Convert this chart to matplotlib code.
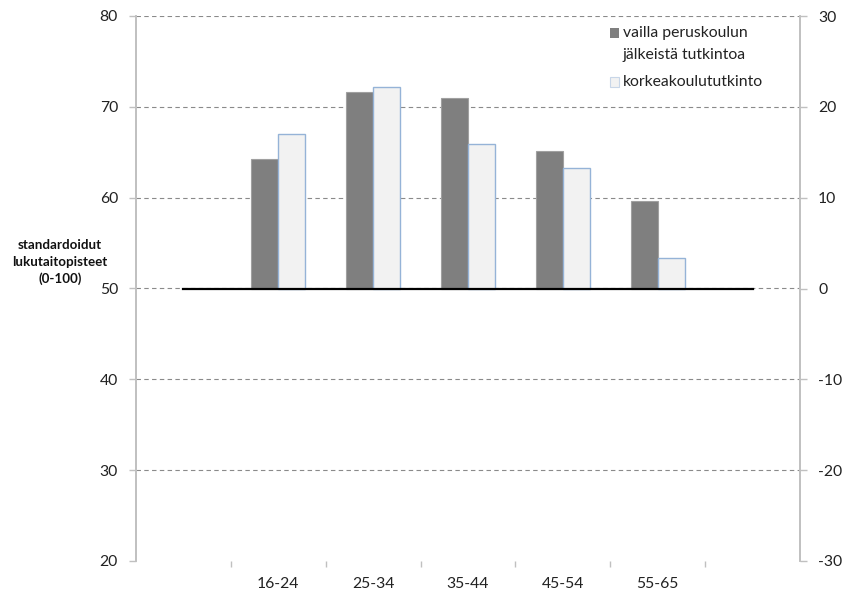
import matplotlib
matplotlib.use("Agg")
import matplotlib.pyplot as plt
import numpy as np
from matplotlib.patches import Rectangle

plt.rcParams['font.family'] = ['Lato', 'DejaVu Sans']
plt.rcParams['axes.unicode_minus'] = False

# Age groups (outer empty slots keep the zero line wider than the bars)
categories = ["", "16-24", "25-34", "35-44", "45-54", "55-65", ""]
# Differences from the mean score (right axis, 0 = 50 on the left axis)
no_degree = [np.nan, 14.3, 21.6, 21.0, 15.1, 9.6, np.nan]
higher_ed = [np.nan, 17.0, 22.2, 15.9, 13.3, 3.4, np.nan]
baseline = [0, 0, 0, 0, 0, 0, 0]

left_ticks = [20, 30, 40, 50, 60, 70, 80]
right_ticks = [-30, -20, -10, 0, 10, 20, 30]

series_names = ["vailla peruskoulun\njälkeistä tutkintoa", "korkeakoulututkinto"]
ylabel_text = "standardoidut\nlukutaitopisteet\n(0-100)"

W, H = 843, 591
fig = plt.figure(figsize=(W / 100, H / 100), dpi=100)
ax = fig.add_axes([136 / W, 1 - 561 / H, (800 - 136) / W, (561 - 16) / H])
ax2 = ax.twinx()

x = np.arange(len(categories))
bw = 0.285
fs = 11.3
txt_col = '#222222'

ax.set_xlim(-0.5, len(categories) - 0.5)
ax.set_ylim(left_ticks[0], left_ticks[-1])
ax.set_yticks(left_ticks)
ax2.set_ylim(right_ticks[0], right_ticks[-1])
ax2.set_yticks(right_ticks)

grid_col = '#8a8a8a'
ax.grid(axis='y', linestyle=(0, (4, 3)), color=grid_col, linewidth=0.8)
ax.get_ygridlines()[0].set_visible(False)
ax.set_axisbelow(True)

dark = '#7f7f7f'
light = '#f2f2f2'
ax2.bar(x - bw / 2, no_degree, width=bw, color=dark, edgecolor='#a0a0a0',
        linewidth=0.8, zorder=2)
ax2.bar(x + bw / 2, higher_ed, width=bw, color=light, edgecolor='#95b3d7',
        linewidth=1.0, zorder=2)
ax2.plot(x, baseline, color='black', linewidth=1.6, zorder=3)

spine_col = '#c0c0c0'
for a in (ax, ax2):
    a.spines['top'].set_visible(False)
    a.spines['bottom'].set_visible(False)
    a.spines['left'].set_color(spine_col)
    a.spines['right'].set_color(spine_col)
    a.spines['left'].set_linewidth(1.2)
    a.spines['right'].set_linewidth(1.2)

ax.tick_params(axis='y', length=5, width=1, color=spine_col, pad=8,
               labelsize=fs, labelcolor=txt_col)
ax2.tick_params(axis='y', length=5, width=1, color=spine_col, pad=8,
                labelsize=fs, labelcolor=txt_col)

# category labels centred, tick marks at category boundaries
ax.set_xticks(x[1:-1])
ax.set_xticklabels(categories[1:-1])
ax.set_xticks(x[:-1] + 0.5, minor=True)
ax.tick_params(axis='x', which='major', length=0, pad=11.5, labelsize=fs,
               labelcolor=txt_col)
ax.tick_params(axis='x', which='minor', length=4, width=1, color=spine_col)

fig.text(60 / W, 1 - 262 / H, ylabel_text, ha='center', va='center',
         fontsize=9.6, fontweight='bold', linespacing=1.45, color='#111111')

# legend: square swatch beside the first line of each entry
legend_rows = [(33, dark, 'none'), (82, light, '#c8d6e8')]
for (yc, fc, ec), name in zip(legend_rows, series_names):
    fig.patches.append(Rectangle((610 / W, 1 - (yc + 4.5) / H), 9 / W, 9 / H,
                                 transform=fig.transFigure, facecolor=fc,
                                 edgecolor=ec, linewidth=0.8))
    fig.text(623 / W, 1 - (yc - 7) / H, name, ha='left', va='top',
             fontsize=fs, color=txt_col, linespacing=1.75)

fig.savefig("out.png", dpi=100)
